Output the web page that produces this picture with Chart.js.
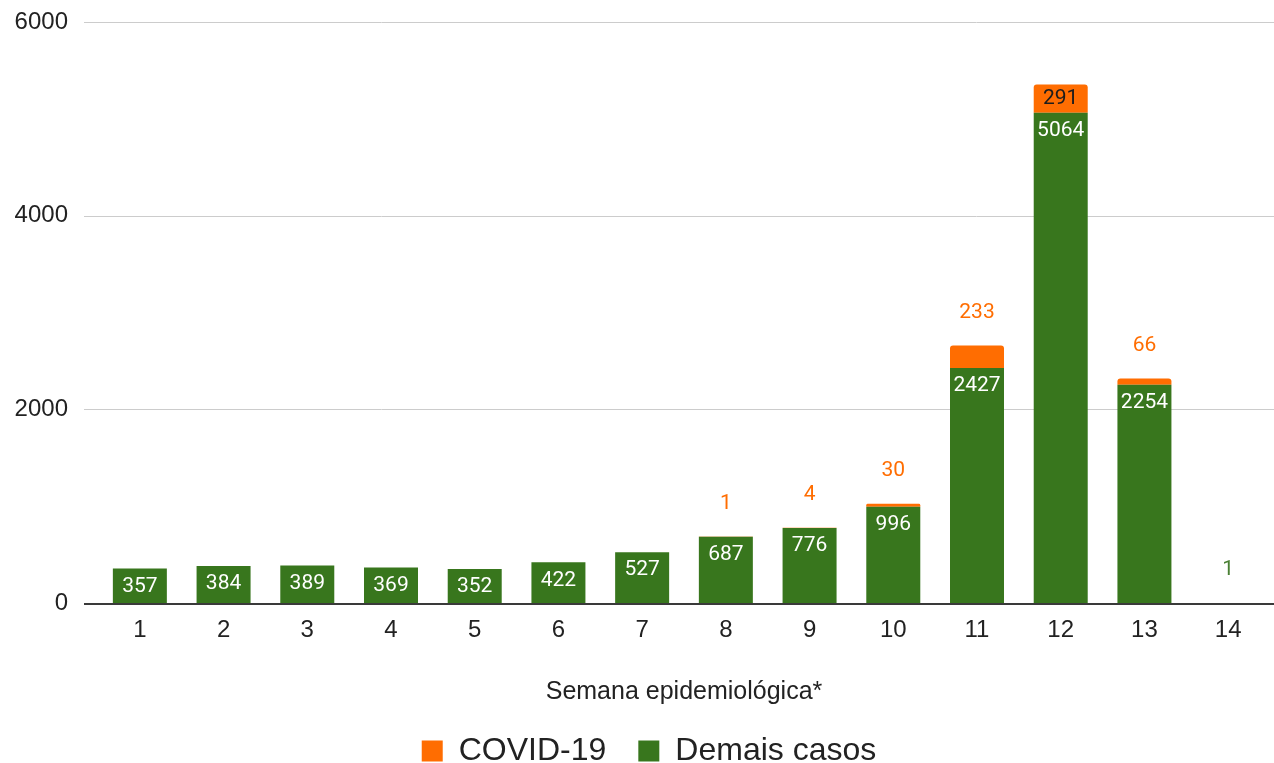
<!DOCTYPE html>
<html>
<head>
<meta charset="utf-8">
<script src="https://cdn.jsdelivr.net/npm/chart.js@4/dist/chart.umd.min.js"></script>
<style>
html,body{margin:0;padding:0;background:#fff;}
#wrap{width:1274px;height:763px;position:relative;}
</style>
</head>
<body>
<div id="wrap"><canvas id="c" width="1274" height="763"></canvas></div>
<script>
const categories = ['1','2','3','4','5','6','7','8','9','10','11','12','13','14'];
const demaisCasos = [357,384,389,369,352,422,527,687,776,996,2427,5064,2254,1];
const covid19 = [null,null,null,null,null,null,null,1,4,30,233,291,66,null];
const yTicks = [0,2000,4000,6000];

const GREEN = '#38761d';
const ORANGE = '#ff6d01';
const LEGEND_PAD = 32;

const layoutPlugin = {
  id: 'layoutTweaks',
  beforeLayout(chart) {
    const lg = chart.legend;
    if (lg && !lg._patched) {
      const f = lg.fit.bind(lg);
      lg.fit = function() { f(); this.height = Math.max(this.height - 18, 0); };
      lg._patched = true;
    }
  },
  afterLayout(chart) {
    const lg = chart.legend;
    if (lg) { lg.left += 10; lg.right += 10; lg.top -= 4; }
  },
  beforeDatasetsDraw(chart) {
    const ctx = chart.ctx, y = chart.scales.y;
    ctx.save();
    yTicks.forEach(t => {
      if (t === 0) return;
      const py = Math.round(y.getPixelForValue(t)) + 0.5;
      ctx.strokeStyle = '#cccccc';
      ctx.lineWidth = 1;
      ctx.beginPath(); ctx.moveTo(84, py); ctx.lineTo(1274, py); ctx.stroke();
    });
    ctx.restore();
  },
  afterDatasetsDraw(chart) {
    const ctx = chart.ctx, y = chart.scales.y;
    const py = Math.round(y.getPixelForValue(0));
    ctx.save();
    ctx.strokeStyle = '#3a3a3a';
    ctx.lineWidth = 2;
    ctx.beginPath(); ctx.moveTo(84, py + 1); ctx.lineTo(1274, py + 1); ctx.stroke();
    ctx.restore();
  }
};

const labelPlugin = {
  id: 'barLabels',
  afterDatasetsDraw(chart) {
    const ctx = chart.ctx;
    ctx.save();
    ctx.font = '21px Roboto';
    ctx.textAlign = 'center';
    ctx.textBaseline = 'middle';
    chart.data.datasets.forEach((ds, di) => {
      const meta = chart.getDatasetMeta(di);
      meta.data.forEach((el, i) => {
        const v = ds.data[i];
        if (v === null || v === undefined) return;
        const h = el.base - el.y;
        if (di === 0) {
          if (h > 30) { ctx.fillStyle = '#ffffff'; ctx.fillText(String(v), el.x, el.y + 18); }
          else { ctx.fillStyle = '#4a8034'; ctx.fillText(String(v), el.x, el.y - 33); }
        } else {
          if (h >= 25) { ctx.fillStyle = '#1c1c1c'; ctx.fillText(String(v), el.x, (el.y + el.base) / 2); }
          else { ctx.fillStyle = ORANGE; ctx.fillText(String(v), el.x, el.y - 33); }
        }
      });
    });
    ctx.restore();
  }
};

new Chart(document.getElementById('c'), {
  type: 'bar',
  data: {
    labels: categories,
    datasets: [
      { label: 'Demais casos', data: demaisCasos, backgroundColor: GREEN, borderWidth: 0 },
      { label: 'COVID-19', data: covid19, backgroundColor: ORANGE, borderWidth: 0,
        borderRadius: {topLeft: 3, topRight: 3, bottomLeft: 0, bottomRight: 0}, borderSkipped: 'bottom' }
    ]
  },
  options: {
    responsive: false,
    animation: false,
    devicePixelRatio: 1,
    layout: { padding: { top: 22, right: 4, left: 8, bottom: 0 } },
    datasets: { bar: { barPercentage: 0.645, categoryPercentage: 1.0 } },
    plugins: {
      legend: {
        position: 'bottom',
        reverse: true,
        labels: {
          font: { family: 'Liberation Sans, Arial', size: 32 },
          color: '#222222',
          boxWidth: 21, boxHeight: 21, padding: LEGEND_PAD,
          generateLabels(chart) {
            return chart.data.datasets.map((d, i) => ({
              text: d.label, fillStyle: d.backgroundColor, strokeStyle: d.backgroundColor,
              lineWidth: 0, datasetIndex: i, hidden: false, fontColor: '#222222'
            }));
          }
        }
      },
      tooltip: { enabled: false }
    },
    scales: {
      x: {
        stacked: true,
        grid: { display: false, drawTicks: false },
        border: { display: false },
        ticks: { font: { family: 'Liberation Sans, Arial', size: 24 }, color: '#222222', padding: 13 },
        title: { display: true, text: 'Semana epidemiológica*', color: '#222222',
                 font: { family: 'Liberation Sans, Arial', size: 25 }, padding: { top: 19, bottom: 0 } }
      },
      y: {
        stacked: true,
        min: 0, max: 6000,
        afterBuildTicks(scale) { scale.ticks = yTicks.map(v => ({ value: v })); },
        afterFit(scale) { scale.width = 90; },
        grid: { display: false, drawTicks: true, tickLength: 26 },
        border: { display: false },
        ticks: { font: { family: 'Liberation Sans, Arial', size: 24 }, color: '#222222', padding: 4,
                 callback: v => String(v) }
      }
    }
  },
  plugins: [layoutPlugin, labelPlugin]
});
</script>
</body>
</html>
